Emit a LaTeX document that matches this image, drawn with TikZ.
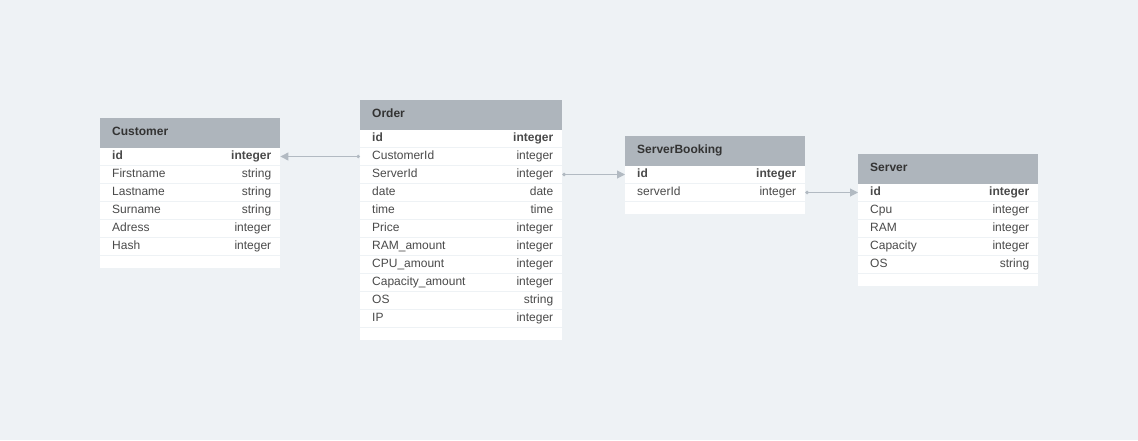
\documentclass[tikz,border=0pt]{standalone}
\usepackage{fontspec}
\setmainfont{Liberation Sans}
\usetikzlibrary{arrows.meta}
\definecolor{bg}{HTML}{EEF2F5}
\definecolor{hdr}{HTML}{AEB5BC}
\definecolor{txt}{HTML}{333333}
\definecolor{rowtxt}{HTML}{4A4A4A}
\definecolor{conn}{HTML}{B2BAC2}
\tikzset{
  hdrbox/.style={fill=hdr, draw=none, anchor=north west, minimum height=30, inner sep=0},
  hdrtxt/.style={anchor=west, inner sep=0, text height=8.6pt, text depth=2.6pt, text=txt, font=\fontsize{12}{14}\selectfont\bfseries},
  rowbox/.style={fill=white, draw=none, anchor=north west, minimum height=16.6, inner sep=0},
  endbox/.style={fill=white, draw=none, anchor=north west, minimum height=12, inner sep=0},
  fieldtxt/.style={anchor=west, inner sep=0, text height=8.6pt, text depth=2.6pt, text=rowtxt},
  typetxt/.style={anchor=east, inner sep=0, text height=8.6pt, text depth=2.6pt, text=rowtxt},
  rel/.style={draw=conn, line width=1pt, {Circle[length=3.5pt]}-{Triangle[length=8pt,width=8pt]}},
}
\newcommand\nrmf{\fontsize{12}{14}\selectfont}
\newcommand\bldf{\fontsize{12}{14}\selectfont\bfseries\color{txt}}
% #1 name, #2 x, #3 top y, #4 width, #5 field, #6 type, #7 font
\newcommand\erow[7]{%
  \node[rowbox, minimum width=#4] (#1) at (#2,#3) {};
  \node[fieldtxt, font=#7] at ([xshift=12pt,yshift=0.5pt]#1.west) {#5};
  \node[typetxt, font=#7] at ([xshift=-9pt,yshift=0.5pt]#1.east) {#6};
}
% #1 name, #2 x, #3 y, #4 width, #5 title
\newcommand\ehead{}
\renewcommand\ehead[5]{%
  \node[hdrbox, minimum width=#4] (#1) at (#2,#3) {};
  \node[hdrtxt] (#1-t) at ([xshift=12pt,yshift=1pt]#1.west) {#5};
}
\begin{document}
\begin{tikzpicture}[x=1pt,y=-1pt]
\fill[bg] (0,0) rectangle (1138,440);
\useasboundingbox (0,0) rectangle (1138,440);

% Customer
\ehead{cust}{100}{118}{180}{Customer}
\erow{c1}{100}{148}{180}{id}{integer}{\bldf}
\erow{c2}{100}{166}{180}{Firstname}{string}{\nrmf}
\erow{c3}{100}{184}{180}{Lastname}{string}{\nrmf}
\erow{c4}{100}{202}{180}{Surname}{string}{\nrmf}
\erow{c5}{100}{220}{180}{Adress}{integer}{\nrmf}
\erow{c6}{100}{238}{180}{Hash}{integer}{\nrmf}
\node[endbox, minimum width=180] (cend) at (100,256) {};

% Order
\ehead{ord}{360}{100}{202}{Order}
\erow{o1}{360}{130}{202}{id}{integer}{\bldf}
\erow{o2}{360}{148}{202}{CustomerId}{integer}{\nrmf}
\erow{o3}{360}{166}{202}{ServerId}{integer}{\nrmf}
\erow{o4}{360}{184}{202}{date}{date}{\nrmf}
\erow{o5}{360}{202}{202}{time}{time}{\nrmf}
\erow{o6}{360}{220}{202}{Price}{integer}{\nrmf}
\erow{o7}{360}{238}{202}{RAM\_amount}{integer}{\nrmf}
\erow{o8}{360}{256}{202}{CPU\_amount}{integer}{\nrmf}
\erow{o9}{360}{274}{202}{Capacity\_amount}{integer}{\nrmf}
\erow{o10}{360}{292}{202}{OS}{string}{\nrmf}
\erow{o11}{360}{310}{202}{IP}{integer}{\nrmf}
\node[endbox, minimum width=202] (oend) at (360,328) {};

% ServerBooking
\ehead{sb}{625}{136}{180}{ServerBooking}
\erow{b1}{625}{166}{180}{id}{integer}{\bldf}
\erow{b2}{625}{184}{180}{serverId}{integer}{\nrmf}
\node[endbox, minimum width=180] (bend) at (625,202) {};

% Server
\ehead{srv}{858}{154}{180}{Server}
\erow{s1}{858}{184}{180}{id}{integer}{\bldf}
\erow{s2}{858}{202}{180}{Cpu}{integer}{\nrmf}
\erow{s3}{858}{220}{180}{RAM}{integer}{\nrmf}
\erow{s4}{858}{238}{180}{Capacity}{integer}{\nrmf}
\erow{s5}{858}{256}{180}{OS}{string}{\nrmf}
\node[endbox, minimum width=180] (send) at (858,274) {};

% relations
\draw[rel] (o2.west) -- (c1.east);
\draw[rel] (o3.east) -- (b1.west);
\draw[rel] (b2.east) -- (s1.west);
\end{tikzpicture}
\end{document}
